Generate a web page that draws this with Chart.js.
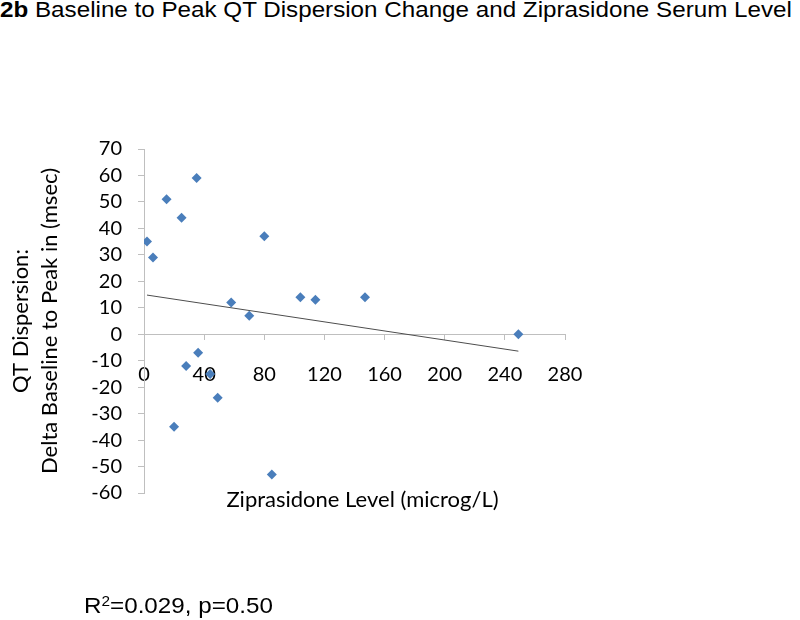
<!DOCTYPE html>
<html>
<head>
<meta charset="utf-8">
<script src="https://cdn.jsdelivr.net/npm/chart.js@4/dist/chart.umd.min.js"></script>
<style>
  html, body { margin: 0; padding: 0; background: #fff; }
  body { width: 800px; height: 620px; position: relative; overflow: hidden; }
  .title { position: absolute; left: 0; top: -3px; font-family: "Liberation Sans", Arial, sans-serif; font-size: 22px; color: #000; white-space: nowrap; transform: scaleX(1.1); transform-origin: 0 0; }
  .note { position: absolute; left: 84px; top: 593px; font-family: "Liberation Sans", Arial, sans-serif; font-size: 22px; color: #000; white-space: nowrap; transform: scaleX(1.1); transform-origin: 0 0; }
  .note sup { font-size: 14px; vertical-align: 7px; line-height: 0; }
  .chart-container { position: absolute; left: 0; top: 0; width: 800px; height: 620px; }
</style>
</head>
<body>
<div class="title"><b>2b</b> Baseline to Peak QT Dispersion Change and Ziprasidone Serum Level</div>
<div class="chart-container"><canvas id="chart"></canvas></div>
<div class="note">R<sup>2</sup>=0.029, p=0.50</div>
<script>
// Ziprasidone serum level (microg/L) for each patient
const levels = [2, 6, 15, 25, 35, 80, 58, 70, 104, 114, 147, 36, 28, 44, 249, 49, 20, 85];

// Delta QT dispersion, baseline to peak (msec)
const qtDelta = [35, 29, 51, 44, 59, 37, 12, 7, 14, 13, 14, -7, -12, -15, 0, -24, -35, -53];

// Linear trendline end points
const trendX = [2, 249];
const trendY = [14.8, -6.4];

const xTicks = [0, 40, 80, 120, 160, 200, 240, 280];
const yTicks = [70, 60, 50, 40, 30, 20, 10, 0, -10, -20, -30, -40, -50, -60];

const axisColor = '#bfbfbf';
const markerColor = '#4a7ebb';
const tickFont = { family: 'Lato', size: 20 };

// Build point lists for chart.js
const scatterPoints = levels.map((x, i) => ({ x: x, y: qtDelta[i] }));
const trendPoints = trendX.map((x, i) => ({ x: x, y: trendY[i] }));

// Nudge the x axis title a little to the right, like the original
const shiftTitle = {
  id: 'shiftTitle',
  afterLayout(chart) {
    const s = chart.scales.x2;
    s.left += 8;
    s.right += 8;
  }
};

new Chart(document.getElementById('chart'), {
  type: 'scatter',
  data: {
    datasets: [
      {
        label: 'QT dispersion change',
        data: scatterPoints,
        pointStyle: 'rectRot',
        pointRadius: 5,
        pointBorderWidth: 0,
        backgroundColor: markerColor,
        borderColor: markerColor,
        xAxisID: 'x',
        yAxisID: 'y',
      },
      {
        label: 'Linear trend',
        data: trendPoints,
        type: 'line',
        showLine: true,
        borderColor: '#4d4d4d',
        borderWidth: 1,
        pointRadius: 0,
        fill: false,
        xAxisID: 'x',
        yAxisID: 'y',
      }
    ]
  },
  plugins: [shiftTitle],
  options: {
    responsive: true,
    maintainAspectRatio: false,
    animation: false,
    layout: { padding: { left: 7, right: 235, top: 149, bottom: 107 } },
    plugins: {
      legend: { display: false },
      tooltip: { enabled: false },
    },
    scales: {
      x: {
        type: 'linear',
        position: { y: 0 },
        min: 0,
        max: 280,
        afterBuildTicks: (s) => { s.ticks = xTicks.map(v => ({ value: v })); },
        afterFit: (s) => { s.height = 10; },
        ticks: { font: tickFont, color: '#000', padding: 23, maxRotation: 0, autoSkip: false },
        grid: { drawOnChartArea: false, drawTicks: true, tickLength: 5, color: axisColor },
        border: { color: axisColor, width: 1 },
      },
      x2: {
        type: 'linear',
        position: 'bottom',
        min: 0,
        max: 280,
        afterFit: (s) => { s.height = 20; },
        ticks: { display: false },
        grid: { display: false },
        border: { display: false },
        title: {
          display: true,
          text: 'Ziprasidone Level (microg/L)',
          font: { family: 'Lato', size: 22, lineHeight: 1.2 },
          color: '#000',
          padding: 0,
        },
      },
      y: {
        type: 'linear',
        position: 'left',
        min: -60,
        max: 70,
        afterBuildTicks: (s) => { s.ticks = yTicks.map(v => ({ value: v })); },
        afterFit: (s) => { s.width = 137; },
        ticks: { font: tickFont, color: '#000', padding: 16, autoSkip: false },
        grid: { drawOnChartArea: false, drawTicks: true, tickLength: 6, color: axisColor },
        border: { color: axisColor, width: 1 },
        title: {
          display: true,
          text: ['QT Dispersion:', 'Delta Baseline to Peak in (msec)'],
          font: { family: 'Lato', size: 22, lineHeight: 1.3 },
          color: '#000',
          padding: 0,
        },
      },
    }
  }
});
</script>
</body>
</html>
